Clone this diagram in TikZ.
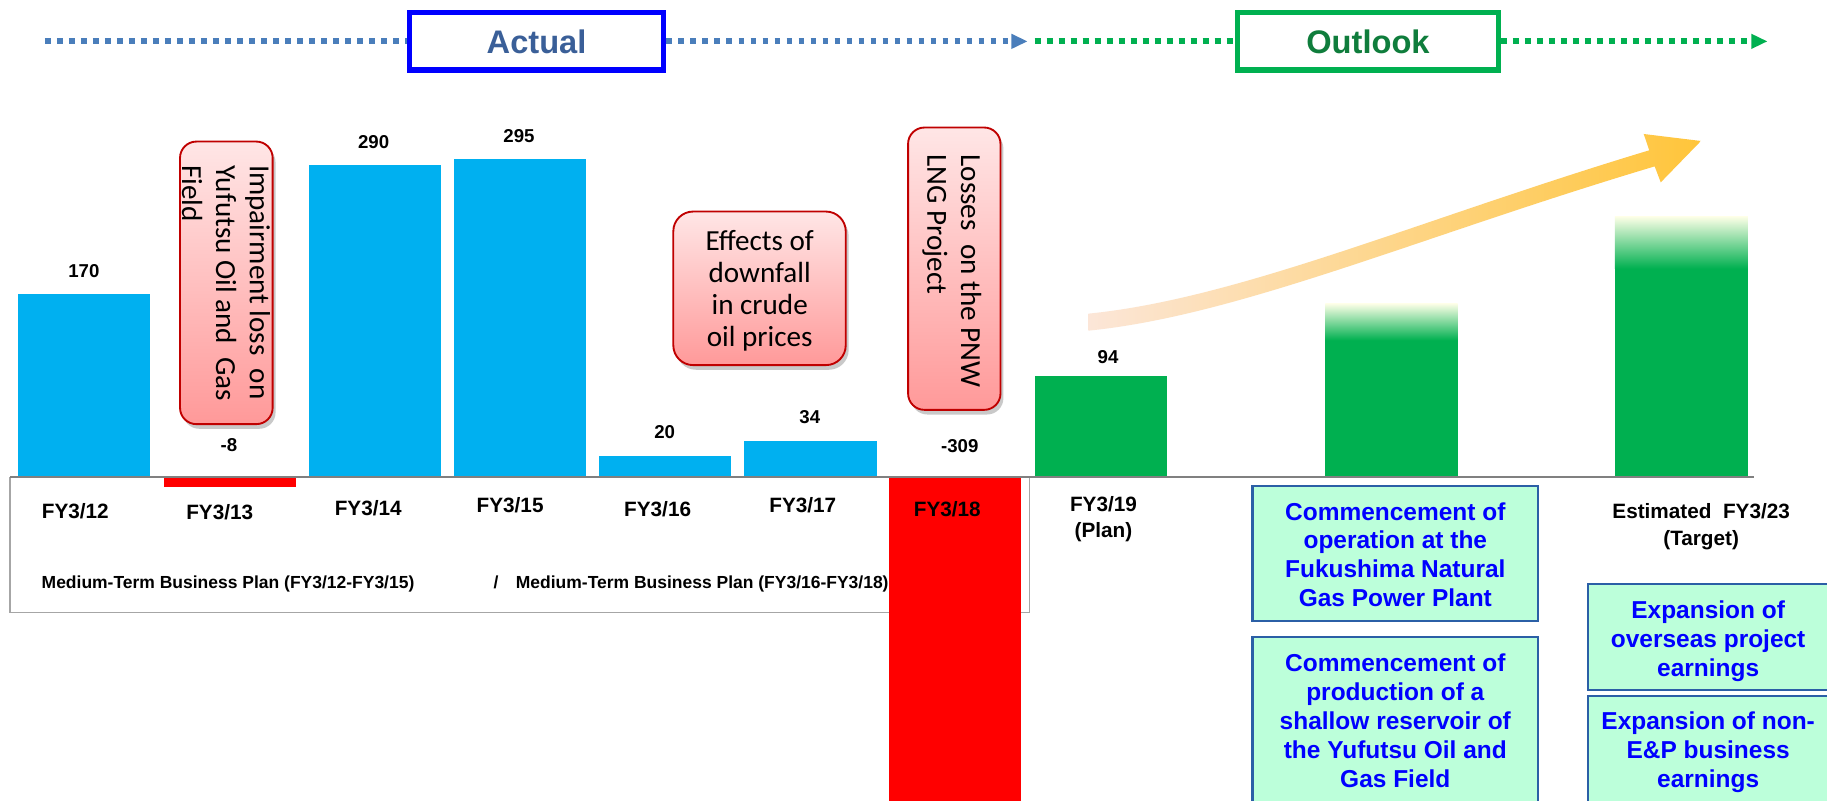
\documentclass[tikz,border=0pt]{standalone}
\usepackage{fontspec}
\setmainfont{Liberation Sans}
\newfontfamily\calfont{Carlito}
\usetikzlibrary{arrows.meta,shadows}
\definecolor{barblue}{HTML}{00B0F0}
\definecolor{barred}{HTML}{FF0000}
\definecolor{bargreen}{HTML}{00B050}
\definecolor{palegreen}{HTML}{7DFCA0}
\definecolor{paleyellow}{HTML}{FFFFE8}
\definecolor{mint}{HTML}{BCFFDA}
\definecolor{mintborder}{HTML}{2B5FA6}
\definecolor{txtblue}{HTML}{0000FF}
\definecolor{lineblue}{HTML}{4A7EBB}
\definecolor{actualtxt}{HTML}{3A5F98}
\definecolor{outlooktxt}{HTML}{0F7D3C}
\definecolor{outlookgreen}{HTML}{00B050}
\definecolor{callborder}{HTML}{C00000}
\definecolor{calltop}{HTML}{FFE6E6}
\definecolor{callbot}{HTML}{FF9999}
\definecolor{peach}{HTML}{FCE6D8}
\definecolor{peachmid}{HTML}{FBD6B8}
\definecolor{gold}{HTML}{FFC53A}
\definecolor{axisgray}{HTML}{808080}
\definecolor{boxgray}{HTML}{A6A6A6}
\begin{document}
\begin{tikzpicture}[x=1pt,y=-1pt,
  numlbl/.style={font=\fontsize{16}{19}\selectfont\bfseries, inner sep=0},
  catlbl/.style={font=\fontsize{17.8}{22.5}\selectfont\bfseries, inner sep=0, align=center},
  callbox/.style={draw=callborder, line width=1.6pt, rounded corners=14pt, top color=calltop, bottom color=callbot, drop shadow={shadow xshift=2.5pt, shadow yshift=-4pt, opacity=0.35, fill=black!60}, inner sep=0},
  calltxt/.style={font=\calfont\fontsize{25}{29}\selectfont, inner sep=0},
  mintbox/.style={draw=mintborder, line width=1.8pt, fill=mint, inner sep=0},
  minttxt/.style={font=\fontsize{21}{24.8}\selectfont\bfseries, text=txtblue, align=center, inner sep=0},
  dotline/.style={line width=5pt, dash pattern=on 5.1pt off 5.2pt},
  phasebox/.style={line width=4.5pt, fill=white, inner sep=0, font=\fontsize{28}{32}\selectfont\bfseries},
  tip/.style={-{Triangle[length=14pt,width=12pt]}}
]
\useasboundingbox (0,0) rectangle (1568,687);
\clip (0,0) rectangle (1568,687);
\fill[white] (0,0) rectangle (1568,687);

% timeline
\node[phasebox, draw=blue, text=actualtxt, minimum width=218.5pt, minimum height=49.3pt] (actual) at (460.5,35.5) {Actual};
\node[phasebox, draw=outlookgreen, text=outlooktxt, minimum width=223.5pt, minimum height=49.3pt] (outlook) at (1174,35.5) {Outlook};
\coordinate (bstart) at (38.6,35.5);
\coordinate (bend) at (882,35.5);
\coordinate (gstart) at (888,35.5);
\coordinate (gend) at (1517,35.5);
\draw[dotline, lineblue] (bstart) -- (actual.west);
\draw[dotline, lineblue, tip] (actual.east) -- (bend);
\draw[dotline, outlookgreen] (gstart) -- (outlook.west);
\draw[dotline, outlookgreen, tip] (outlook.east) -- (gend);

% table box
\draw[boxgray, line width=1.3pt] (8.6,409.7) rectangle (883.4,525.8);

% bars
\fill[barblue] (15.6,252.2) rectangle (128.6,409.7);
\fill[barred] (141,409.7) rectangle (254,417.7);
\fill[barblue] (265,141.6) rectangle (378.4,409.7);
\fill[barblue] (389.6,136.5) rectangle (502.6,409.7);
\fill[barblue] (514,391.4) rectangle (627.3,409.7);
\fill[barblue] (638.6,378.5) rectangle (752.8,409.7);
\fill[barred] (763,409.7) rectangle (876,700);
\fill[bargreen] (888.3,322.7) rectangle (1001.2,409.7);
\fill[bargreen] (1137.5,291.5) rectangle (1251,409.7);
\shade[top color=paleyellow, middle color=palegreen, bottom color=bargreen] (1137.5,260.3) rectangle (1251,292);
\fill[bargreen] (1386,230) rectangle (1500,409.7);
\shade[top color=paleyellow, middle color=palegreen, bottom color=bargreen] (1386,185.4) rectangle (1500,230.5);

% baseline
\draw[axisgray, line width=1.8pt] (8.6,409.7) -- (1505,409.7);

% growth arrow
\shade[left color=peach, middle color=peachmid, right color=gold]
  (934,269.2) .. controls (1064,256.2) and (1217.75,188.6) .. (1415.4,129)
  -- (1410.7,115) -- (1459.8,121) -- (1425.3,156.5) -- (1420.1,142.8)
  .. controls (1217.75,203.2) and (1064,270.8) .. (934,283.8) -- cycle;

% value labels
\node[numlbl] (v12) at (72,232.5) {170};
\node[numlbl] (v13) at (196.5,382) {-8};
\node[numlbl] (v14) at (320.7,122) {290};
\node[numlbl] (v15) at (445.4,116.7) {295};
\node[numlbl] (v16) at (570.5,370.5) {20};
\node[numlbl] (v17) at (695,357.6) {34};
\node[numlbl] (v18) at (823.7,383) {-309};
\node[numlbl] (v19) at (951,306.8) {94};

% category labels
\node[catlbl] (fy12) at (64.6,438.7) {FY3/12};
\node[catlbl] (fy13) at (188.6,439.6) {FY3/13};
\node[catlbl] (fy14) at (316,436) {FY3/14};
\node[catlbl] (fy15) at (437.8,433.8) {FY3/15};
\node[catlbl] (fy16) at (564.4,436.6) {FY3/16};
\node[catlbl] (fy17) at (689,433.8) {FY3/17};
\node[catlbl] (fy18) at (813,437) {FY3/18};
\node[catlbl] (fy19) at (947,445.6) {FY3/19\\(Plan)};
\node[catlbl] (fy23) at (1460,452) {Estimated\ \ FY3/23\\(Target)};

\node[font=\fontsize{15}{18}\selectfont\bfseries, inner sep=0, anchor=west] (mtp) at (35.6,501)
  {Medium-Term Business Plan (FY3/12-FY3/15)\hspace*{68pt}/\hspace*{15pt}Medium-Term Business Plan (FY3/16-FY3/18)};

% callouts
\node[callbox, minimum width=79.5pt, minimum height=242.5pt] (c1) at (194.25,242.75) {};
\node[calltxt, rotate=-90, align=left] (c1t) at (194,243) {Impairment loss\ \ on\\Yufutsu Oil and\ \ Gas\\Field};
\node[callbox, rounded corners=17pt, minimum width=148pt, minimum height=131.8pt] (c2) at (651.85,247.45) {};
\node[calltxt, align=center, font=\calfont\fontsize{25}{27.7}\selectfont] (c2t) at (652,249.5) {Effects of\\downfall\\in crude\\oil prices};
\node[callbox, minimum width=79.3pt, minimum height=242.3pt] (c3) at (819,230.6) {};
\node[calltxt, rotate=-90, align=left] (c3t) at (817,232.5) {Losses\ \ on the PNW\\LNG Project};

% outlook boxes
\node[mintbox, minimum width=245.2pt, minimum height=116.2pt] (mA) at (1197.5,475) {};
\node[minttxt] (mAt) at (1197.5,476) {Commencement of\\operation at the\\Fukushima Natural\\Gas Power Plant};
\node[mintbox, minimum width=245.2pt, minimum height=153pt] (mB) at (1197.5,623.5) {};
\node[minttxt] (mBt) at (1197.5,618.5) {Commencement of\\production of a\\shallow reservoir of\\the Yufutsu Oil and\\Gas Field};
\node[mintbox, minimum width=217pt, minimum height=91.2pt] (mC) at (1471.5,546.5) {};
\node[minttxt] (mCt) at (1466,550.2) {Expansion of\\overseas project\\earnings};
\node[mintbox, minimum width=217pt, minimum height=102.6pt] (mD) at (1471.5,648.7) {};
\node[minttxt] (mDt) at (1466,645.8) {Expansion of non-\\E\&P business\\earnings};
\end{tikzpicture}
\end{document}
